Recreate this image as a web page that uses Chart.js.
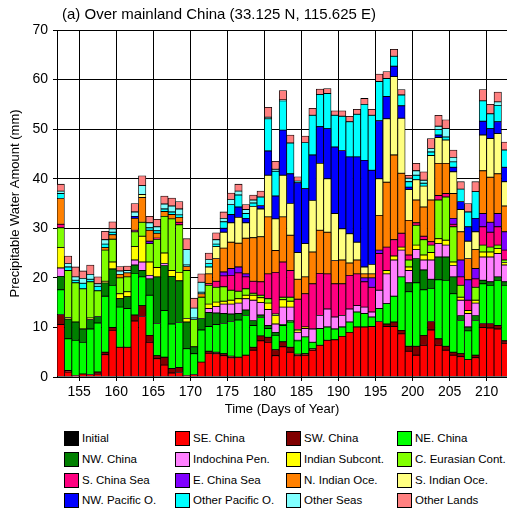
<!DOCTYPE html>
<html>
<head>
<meta charset="utf-8">
<script src="https://cdn.jsdelivr.net/npm/chart.js@4.4.1/dist/chart.umd.min.js"></script>
<style>
body { margin: 0; background: #fff; font-family: "Liberation Sans", Arial, sans-serif; }
#wrap { position: relative; width: 507px; height: 512px; overflow: hidden; }
#title { position: absolute; left: 62px; top: 6px; font-size: 15px; line-height: 15px; color: #000; white-space: nowrap; }
#chart { position: absolute; left: 0; top: 0; }
.leg { position: absolute; display: flex; align-items: center; font-size: 11.5px; color: #000; white-space: nowrap; }
.leg span.box { display: inline-block; width: 13px; height: 13px; border: 1px solid #000; margin-right: 3px; }
</style>
</head>
<body>
<div id="wrap">
  <canvas id="chart" width="507" height="422"></canvas>
  <div id="title">(a) Over mainland China (33.125 N, 115.625 E)</div>
  <div id="legend"></div>
</div>
<script>
// days of year 152..212
var days = [152,153,154,155,156,157,158,159,160,161,
            162,163,164,165,166,167,168,169,170,171,
            172,173,174,175,176,177,178,179,180,181,
            182,183,184,185,186,187,188,189,190,191,
            192,193,194,195,196,197,198,199,200,201,
            202,203,204,205,206,207,208,209,210,211,212];
var xTicks = [155,160,165,170,175,180,185,190,195,200,205,210];

var initial = [0,0,0,0,0,0,0,0,0,0, 0,0,0,0,0,0,0,0,0,0, 0,0,0,0,0,0,0,0,0,0,
               0,0,0,0,0,0,0,0,0,0, 0,0,0,0,0,0,0,0,0,0, 0,0,0,0,0,0,0,0,0,0,0];
var seChina = [10.6,1.0,0.3,0.6,0.5,0.6,4.5,9.4,6.0,6.0,
               11.3,12.2,7.0,3.7,2.4,0.8,0.9,0.3,0.5,3.0,
               4.8,4.7,4.3,3.9,4.0,4.4,5.4,7.3,7.0,4.3,
               6.1,5.0,4.3,4.4,5.4,6.4,7.4,7.5,8.2,9.0,
               10.1,10.1,10.2,11.2,10.2,10.2,8.7,5.2,4.4,6.4,
               9.5,6.4,5.4,4.4,4.1,3.5,3.9,10.0,9.9,9.7,6.8];
var swChina = [2.0,0.3,0,0,0,0.4,0.5,0.6,0,0,
               1.2,2.2,1.4,0.6,1.6,0.9,1.0,0,0,0,
               0.4,0.3,0.4,0.3,0,0,0.6,1.0,1.0,1.2,
               1.0,1.0,0.3,0.3,0.3,0,0,0,0,0,
               0,0,0,0,0.5,0.9,0.7,1.0,1.8,2.0,
               1.7,1.3,0.8,0.6,0.6,0,0.5,0.8,0.9,0.7,0.5];
var neChina = [5.0,6.4,7.1,6.4,9.2,9.9,11.3,8.5,8.1,7.8,
               8.4,5.8,8.1,6.5,9.4,9.0,9.1,5.4,4.2,6.5,
               5.0,5.6,6.1,7.0,7.5,8.0,4.4,3.7,1.8,2.9,
               3.3,5.1,2.7,3.4,1.3,3.4,2.7,2.2,1.9,2.1,
               3.0,2.7,1.9,2.6,4.1,5.2,10.8,11.0,12.8,9.2,
               6.7,11.9,13.3,11.8,6.7,5.8,7.0,8.0,7.7,9.1,11.2];
var nwChina = [2.7,4.0,3.7,2.7,1.9,1.3,2.7,3.3,1.7,2.4,
               1.7,1.3,3.3,9.4,9.1,9.6,8.4,5.4,1.4,2.3,
               2.8,2.3,2.0,1.5,1.3,1.1,1.0,0.5,0.6,0.6,
               0.2,0.3,0.1,0,0,0,0,0,0,0,
               0,0,0,0,0,0,0,1.8,4.9,4.0,
               1.8,4.6,4.7,3.4,1.0,0.8,1.0,0.7,0.7,0.7,0.7];
var indochina = [1.7,0,0,0,0,0,0,0,0,0,
                 1.0,1.7,0.7,0,0.4,0,0,0,0,0,
                 0.8,1.3,1.9,2.0,2.1,2.3,4.1,2.5,3.2,1.7,
                 3.5,2.7,1.6,1.7,2.7,2.6,3.6,2.4,2.3,2.6,
                 1.3,1.3,1.0,3.7,6.0,7.3,5.4,2.5,1.8,2.0,
                 3.9,2.7,2.4,2.3,3.1,2.7,2.5,4.7,5.0,4.7,3.4];
var indianSub = [4.1,0.3,0,0,0.3,0,0.3,1.4,1.0,1.0,
                 2.7,5.2,2.7,1.9,2.1,1.2,1.7,0.7,0,0,
                 0.9,0.9,0.6,0.8,0.9,0.7,1.0,1.0,1.3,1.7,
                 1.5,1.2,0.3,0.3,0,0,0,0,0,0,
                 0,0,0,0,0.7,0.8,0.6,0.7,0.9,1.0,
                 1.5,1.0,1.0,0.7,0.6,0.6,0.6,1.0,1.0,1.0,0.5];
var cEurasia = [4.0,9.5,7.9,8.1,7.3,5.2,6.3,4.6,3.2,3.0,
                3.0,2.8,3.7,5.7,7.4,10.4,9.6,9.7,5.5,4.3,
                3.8,3.0,2.9,2.0,1.5,1.3,0.4,0.5,0.9,0.3,
                0.5,0.8,0.3,0,0,0,0,0,0,0,
                0,0,0,0,0,0,0,1.4,4.0,3.1,
                1.5,7.8,8.7,7.1,2.4,0,2.6,1.4,1.0,0.7,0.5];
var sChinaSea = [0.7,0,0,0,0,0,0,0,0,0,
                 0.3,0,0,0.2,0,0,0.5,0,0,0,
                 0.3,1.2,2.2,3.0,3.7,2.4,2.4,2.7,5.0,8.4,
                 7.1,5.4,6.1,6.7,9.1,8.5,7.1,6.7,6.4,6.8,
                 6.4,5.1,5.0,7.4,4.7,3.3,2.8,1.0,0.5,0.7,
                 0.7,0.9,0.7,0.5,1.7,2.1,1.7,3.7,3.0,3.7,2.0];
var eChinaSea = [0,0,0,0,0,0,0,0,0,0,
                 0,0,0.5,0,0,0,0,0,0,0,
                 0,0,0.8,1.4,1.2,0.6,0,0,0,0,
                 0,0,0,0,0,0,0,0,0,0,
                 0,0.8,1.9,0.7,0,0,0,0,0,0,
                 0,0,0,1.2,3.4,4.1,2.1,2.7,2.0,2.7,3.7];
var nIndian = [5.2,0,0,0,0,0,0.5,0.9,0.7,0.8,
               2.4,5.0,2.2,1.0,1.0,0.9,1.0,0.8,0,0.7,
               2.0,4.6,4.8,5.3,4.8,7.2,8.8,9.1,11.5,4.4,
               9.1,7.1,4.0,3.4,6.4,8.7,8.4,4.7,4.8,2.5,
               2.8,0.8,0.8,7.0,13.1,17.1,12.1,7.0,4.6,5.9,
               8.4,6.5,6.1,5.0,5.7,4.3,3.8,8.6,9.1,8.0,5.2];
var sIndian = [0,0,0,0,0,0,0,0,0,0,
               0,0.6,0,0,0,0,0,0,0,0,
               1.4,2.4,3.2,3.9,5.2,3.1,6.3,5.6,8.4,6.4,
               8.4,6.4,5.4,6.7,10.4,13.5,10.8,9.5,6.3,5.9,
               3.6,1.4,1.9,7.4,12.8,15.8,11.1,6.2,4.1,4.2,
               9.0,5.2,4.7,4.4,4.5,3.5,3.6,7.2,7.8,8.1,4.9];
var nwPacific = [0,0,0,0,0,0,0,0,0,0,
                 0.4,0,0,0,0,0,0,0,0,0,
                 0,0,0.8,1.7,2.1,0.9,0,0.7,4.9,4.6,
                 9.1,6.0,14.1,11.1,9.2,7.4,10.1,13.4,15.8,15.5,
                 17.2,21.5,19.0,11.7,4.5,2.1,2.5,0.5,0,0,
                 0,0.5,0,0.9,1.6,2.9,2.7,2.8,2.0,2.4,2.9];
var otherPacific = [1.0,0.7,0.5,1.1,0.5,0.9,0.7,0.5,0,0,
                    0,0,0.5,0.5,0.5,0.5,0.5,0.3,0.3,0.3,
                    0.7,0.5,1.3,2.0,2.4,1.0,0.7,1.7,6.5,5.0,
                    5.9,6.2,0.3,9.3,8.0,6.5,7.1,6.4,6.9,7.1,
                    8.6,11.3,11.1,7.9,3.6,2.0,2.2,1.1,0.9,0.6,
                    0.7,1.1,0.6,1.1,2.5,3.0,5.4,4.1,3.0,3.3,3.5];
var otherSeas = [0.5,0.7,0.7,1.0,1.0,0.5,0.9,0.7,0.7,0.5,
                 0.9,1.8,1.0,0.8,1.0,1.2,1.2,3.1,2.0,2.0,
                 0.8,0.9,0.7,1.0,0.8,0.8,0.6,0,0.3,0.4,
                 0.2,0,0,0,0,0,0,0,0,0,
                 0,0,0,0,0,0,0,0.7,0.9,0.6,
                 0.7,0.7,1.7,0.9,0,0,0,0,0,0.7,0];
var otherLands = [1.4,1.5,2.0,1.5,1.9,1.4,1.7,1.4,0.9,0.9,
                  1.7,2.0,1.3,1.5,1.6,1.6,1.5,2.2,2.0,1.7,
                  1.3,1.4,1.3,1.3,1.4,1.0,1.0,1.2,2.0,1.6,
                  1.9,1.6,0.9,1.3,1.4,1.1,1.0,0.9,1.1,1.1,
                  1.0,1.2,1.2,1.5,1.4,1.4,1.1,0.6,1.5,1.7,
                  2.0,2.2,1.8,1.5,1.5,1.7,2.0,2.3,1.9,2.0,1.6];

var labels = ['Initial','SE. China','SW. China','NE. China','NW. China','Indochina Pen.',
              'Indian Subcont.','C. Eurasian Cont.','S. China Sea','E. China Sea',
              'N. Indian Oce.','S. Indian Oce.','NW. Pacific O.','Other Pacific O.',
              'Other Seas','Other Lands'];
var colors = ['#000000','#ff0000','#800000','#00ff00','#008000','#ff80ff',
              '#ffff00','#80ff00','#ff0080','#8000ff','#ff8000','#ffff80',
              '#0000ff','#00ffff','#80ffff','#ff8080'];
var series = [initial, seChina, swChina, neChina, nwChina, indochina, indianSub,
              cEurasia, sChinaSea, eChinaSea, nIndian, sIndian, nwPacific,
              otherPacific, otherSeas, otherLands];

var datasets = series.map(function(arr, k) {
    return {
        label: labels[k],
        data: arr.map(function(v, i) { return {x: days[i] + 0.5, y: v}; }),
        backgroundColor: colors[k],
        borderColor: '#000',
        borderWidth: 0.8,
        borderSkipped: false,
        categoryPercentage: 1.0,
        barPercentage: 1.0
    };
});

var font = 'Liberation Sans, Arial, sans-serif';

new Chart(document.getElementById('chart'), {
    type: 'bar',
    data: { datasets: datasets },
    options: {
        responsive: false,
        animation: false,
        layout: { padding: { top: 30, right: 0, bottom: 0, left: 0 } },
        plugins: { legend: { display: false }, tooltip: { enabled: false }, title: { display: false } },
        scales: {
            x: {
                type: 'linear',
                min: 152,
                max: 212.75,
                stacked: true,
                offset: false,
                z: 1,
                afterBuildTicks: function(scale) {
                    scale.ticks = xTicks.map(function(v) { return {value: v}; });
                },
                afterFit: function(scale) { scale.height = 45; },
                grid: { offset: false, color: '#000', lineWidth: 1, tickLength: 4, tickColor: '#000' },
                border: { color: '#000', width: 1 },
                ticks: { color: '#000', font: { family: font, size: 14 }, padding: 3, maxRotation: 0 },
                title: { display: true, text: 'Time (Days of Year)', color: '#000',
                         font: { family: font, size: 13 }, padding: { top: 0, bottom: 5 } }
            },
            y: {
                min: 0,
                max: 70,
                stacked: true,
                z: 1,
                afterFit: function(scale) { scale.width = 57; },
                grid: { color: '#000', lineWidth: 1, tickLength: 4, tickColor: '#000' },
                border: { color: '#000', width: 1 },
                ticks: { stepSize: 10, color: '#000', font: { family: font, size: 14 }, padding: 5 },
                title: { display: true, text: 'Precipitable Water Amount (mm)', color: '#000',
                         font: { family: font, size: 13 }, padding: { top: 8, bottom: 0 } }
            }
        }
    }
});

// legend, 4 columns x 4 rows
var legCols = [64, 175, 286, 397];
var legRows = [438, 459, 480, 500];
var legend = document.getElementById('legend');
labels.forEach(function(name, k) {
    var item = document.createElement('div');
    item.className = 'leg';
    item.style.left = legCols[k % 4] + 'px';
    item.style.top = (legRows[Math.floor(k / 4)] - 8) + 'px';
    item.style.height = '16px';
    item.innerHTML = '<span class="box" style="background:' + colors[k] + '"></span>' + name;
    legend.appendChild(item);
});
</script>
</body>
</html>
